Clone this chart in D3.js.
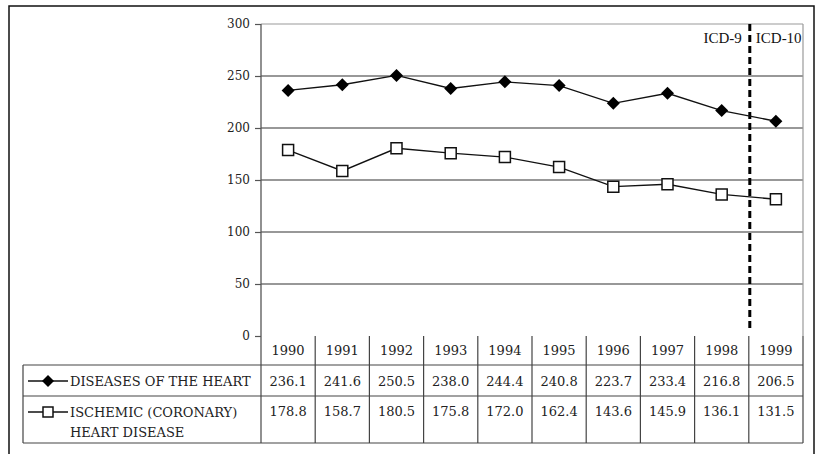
<!DOCTYPE html>
<html>
<head>
<meta charset="utf-8">
<script src="https://cdn.jsdelivr.net/npm/d3@7"></script>
<style>
  html, body { margin: 0; padding: 0; background: #fff; }
  svg { display: block; }
</style>
</head>
<body>
<svg id="chart" width="818" height="454"></svg>
<script>
// data
const years = ["1990","1991","1992","1993","1994","1995","1996","1997","1998","1999"];
const heartDisease = [236.1, 241.6, 250.5, 238.0, 244.4, 240.8, 223.7, 233.4, 216.8, 206.5];
const ischemic = [178.8, 158.7, 180.5, 175.8, 172.0, 162.4, 143.6, 145.9, 136.1, 131.5];
const yTicks = [0, 50, 100, 150, 200, 250, 300];
const seriesNames = [["DISEASES OF THE HEART"], ["ISCHEMIC (CORONARY)", "HEART DISEASE"]];

const svg = d3.select("#chart");
const serif = "'DejaVu Serif', serif";
const times = "'Liberation Serif', 'Times New Roman', serif";

const x = d3.scaleBand().domain(years).range([261, 803]);
const y = d3.scaleLinear().domain([0, 300]).range([336, 24]);

// outer frame (bottom runs past the picture edge)
svg.append("rect").attr("x", 9).attr("y", 6).attr("width", 805).attr("height", 470)
  .attr("fill", "none").attr("stroke", "#111").attr("stroke-width", 1.5);

// gridlines
svg.append("g").selectAll("line").data(yTicks.filter(d => d > 0)).join("line")
  .attr("x1", 261).attr("x2", 803)
  .attr("y1", d => y(d)).attr("y2", d => y(d))
  .attr("stroke", d => d === 300 ? "#9a9a9a" : "#333").attr("stroke-width", 1.2);

// right plot border
svg.append("line").attr("x1", 803).attr("x2", 803).attr("y1", y(300)).attr("y2", y(0))
  .attr("stroke", "#9a9a9a").attr("stroke-width", 1.2);

// y axis
const yAxis = svg.append("g").attr("transform", "translate(261,0)")
  .call(d3.axisLeft(y).tickValues(yTicks).tickSize(6).tickPadding(5));
yAxis.select(".domain").remove();
yAxis.selectAll(".tick line").attr("stroke", "#555").attr("stroke-width", 1.2);
yAxis.selectAll("text").attr("font-family", serif).attr("font-size", 12).attr("fill", "#222");
svg.append("line").attr("x1", 261).attr("x2", 261).attr("y1", y(300)).attr("y2", 443)
  .attr("stroke", "#555").attr("stroke-width", 1.3);

// ICD-9 / ICD-10 split
const splitX = x("1999");
svg.append("line").attr("x1", splitX + 1).attr("x2", splitX + 1).attr("y1", y(300)).attr("y2", 329)
  .attr("stroke", "#000").attr("stroke-width", 3).attr("stroke-dasharray", "7,4");
svg.append("text").attr("x", splitX - 7).attr("y", 43).attr("text-anchor", "end")
  .attr("font-family", times).attr("font-size", 15).attr("fill", "#111").text("ICD-9");
svg.append("text").attr("x", splitX + 7).attr("y", 43)
  .attr("font-family", times).attr("font-size", 15).attr("fill", "#111").text("ICD-10");

// markers
const diamond = (cx, cy, r) => `M${cx},${cy - r}L${cx + r},${cy}L${cx},${cy + r}L${cx - r},${cy}Z`;
const square = (cx, cy, r) => `M${cx - r},${cy - r}h${2 * r}v${2 * r}h${-2 * r}Z`;
const cx = i => x(years[i]) + x.bandwidth() / 2;

const line = d3.line().x((d, i) => cx(i)).y(d => y(d));
svg.append("path").datum(heartDisease).attr("d", line)
  .attr("fill", "none").attr("stroke", "#111").attr("stroke-width", 1.3);
svg.append("path").datum(ischemic).attr("d", line)
  .attr("fill", "none").attr("stroke", "#111").attr("stroke-width", 1.3);

svg.append("g").selectAll("path").data(heartDisease).join("path")
  .attr("d", (d, i) => diamond(cx(i), y(d), 6.5)).attr("fill", "#000");
svg.append("g").selectAll("path").data(ischemic).join("path")
  .attr("d", (d, i) => square(cx(i), y(d), 5.5))
  .attr("fill", "#fff").attr("stroke", "#111").attr("stroke-width", 1.5);

// data table
const rowTops = [336, 365, 396, 443];
const tbl = svg.append("g").attr("stroke", "#444").attr("stroke-width", 1.2);
tbl.selectAll("line.h").data(rowTops.slice(1)).join("line").attr("class", "h")
  .attr("x1", 23).attr("x2", 803).attr("y1", d => d).attr("y2", d => d);
tbl.append("line").attr("x1", 23).attr("x2", 23).attr("y1", 365).attr("y2", 443);
tbl.selectAll("line.v").data(years).join("line").attr("class", "v")
  .attr("x1", d => x(d) + x.bandwidth()).attr("x2", d => x(d) + x.bandwidth())
  .attr("y1", 336).attr("y2", 443);

const txt = svg.append("g").attr("font-family", serif).attr("font-size", 13).attr("fill", "#222");
txt.selectAll("text.yr").data(years).join("text").attr("class", "yr")
  .attr("x", d => x(d) + x.bandwidth() / 2).attr("y", 355).attr("text-anchor", "middle").text(d => d);
txt.selectAll("text.v1").data(heartDisease).join("text").attr("class", "v1")
  .attr("x", (d, i) => cx(i)).attr("y", 386).attr("text-anchor", "middle").text(d => d.toFixed(1));
txt.selectAll("text.v2").data(ischemic).join("text").attr("class", "v2")
  .attr("x", (d, i) => cx(i)).attr("y", 416).attr("text-anchor", "middle").text(d => d.toFixed(1));

// legend keys in the row headers
const keyY = [381, 412];
keyY.forEach((ky, k) => {
  svg.append("line").attr("x1", 28).attr("x2", 68).attr("y1", ky).attr("y2", ky)
    .attr("stroke", "#111").attr("stroke-width", 1.3);
  svg.append("path")
    .attr("d", k === 0 ? diamond(48, ky, 6) : square(48, ky, 5))
    .attr("fill", k === 0 ? "#000" : "#fff").attr("stroke", "#111").attr("stroke-width", k === 0 ? 0 : 1.5);
  seriesNames[k].forEach((s, j) => {
    txt.append("text").attr("x", 70).attr("y", ky + 5 + j * 20).text(s);
  });
});
</script>
</body>
</html>
